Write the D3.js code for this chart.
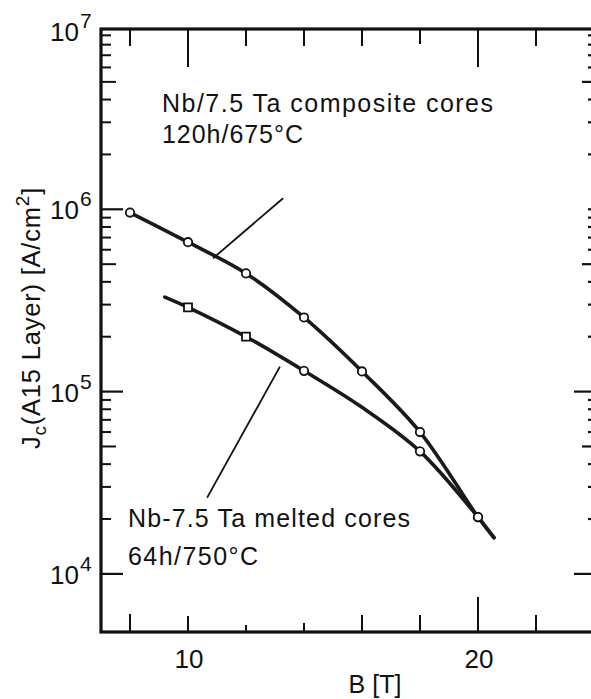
<!DOCTYPE html>
<html><head><meta charset="utf-8">
<script src="https://cdn.jsdelivr.net/npm/d3@7"></script>
<style>body{margin:0;background:#fff}svg{display:block}text{font-family:"Liberation Sans",Arial,sans-serif;fill:#111}</style>
</head><body><svg id="c" width="591" height="699"></svg>
<script>
// ---- data ----
const compB = [8, 10, 12, 14, 16, 18, 20];
const compJ = [9.6e5, 6.6e5, 4.45e5, 2.55e5, 1.29e5, 6.0e4, 2.05e4];
const compCurveB = [8, 10, 12, 14, 16, 18, 20, 20.55];
const compCurveJ = [9.6e5, 6.6e5, 4.45e5, 2.55e5, 1.29e5, 6.0e4, 2.05e4, 1.58e4];
const meltB = [10, 12, 14, 18, 20];
const meltJ = [2.9e5, 2.0e5, 1.3e5, 4.7e4, 2.05e4];
const meltSym = ["square", "square", "circle", "circle", "circle"];
const meltCurveB = [9.2, 10, 12, 14, 16, 18, 20, 20.55];
const meltCurveJ = [3.3e5, 2.9e5, 2.0e5, 1.3e5, 8.2e4, 4.7e4, 2.05e4, 1.58e4];
const xTicks = [8, 10, 12, 14, 16, 18, 20, 22];
const xLabels = [10, 20];
const yDecades = [1e4, 1e5, 1e6, 1e7];
const yLabelExp = [4, 5, 6, 7];
const minorMult = [2, 3, 4, 5, 6, 7, 8, 9];
const leaderComp = [[10.86, 5.38e5], [13.28, 1.15e6]];
const leaderMelt = [[13.17, 1.37e5], [10.66, 2.62e4]];
const noteComp = ["Nb/7.5 Ta composite cores", "120h/675°C"];
const noteMelt = ["Nb-7.5 Ta melted cores", "64h/750°C"];

// ---- layout ----
const L = 101, R = 597, T = 29, B = 632;
const svg = d3.select("#c");
const x = d3.scaleLinear().domain([7, 24]).range([L, L + 17 * 29]);
const y = d3.scaleLog().domain([4.8e3, 9.75e6]).range([B, T]);

// frame
svg.append("rect").attr("x", L).attr("y", T).attr("width", R - L).attr("height", B - T)
  .attr("fill", "none").attr("stroke", "#111").attr("stroke-width", 3.2);

// x ticks top & bottom
const topLen = {8:17, 10:38, 12:17, 14:17, 16:17, 18:15, 20:38, 22:17};
const botLen = {8:18, 10:16, 12:7, 14:9, 16:17, 18:17, 20:35, 22:17};
svg.append("g").selectAll("line").data(xTicks).join("line")
  .attr("x1", d => x(d)).attr("x2", d => x(d)).attr("y1", T).attr("y2", d => T + topLen[d])
  .attr("stroke", "#111").attr("stroke-width", 2);
svg.append("g").selectAll("line").data(xTicks).join("line")
  .attr("x1", d => x(d)).attr("x2", d => x(d)).attr("y1", B).attr("y2", d => B - botLen[d])
  .attr("stroke", "#111").attr("stroke-width", 2);

// y ticks left and right
const minor = [];
[1e4, 1e5, 1e6].forEach(dec => minorMult.forEach(k => minor.push({v: dec * k, k})));
svg.append("g").selectAll("line").data(minor).join("line")
  .attr("x1", L).attr("x2", d => L + (d.k === 5 ? 15 : 10))
  .attr("y1", d => y(d.v)).attr("y2", d => y(d.v)).attr("stroke", "#111").attr("stroke-width", 2);
svg.append("g").selectAll("line").data(yDecades.slice(0, 3)).join("line")
  .attr("x1", L).attr("x2", L + 22).attr("y1", d => y(d)).attr("y2", d => y(d))
  .attr("stroke", "#111").attr("stroke-width", 2.2);
const rx = 592;
svg.append("g").selectAll("line").data(minor).join("line")
  .attr("x1", rx).attr("x2", d => rx - (d.k === 5 ? 10 : 4))
  .attr("y1", d => y(d.v)).attr("y2", d => y(d.v)).attr("stroke", "#111").attr("stroke-width", 2.2);
svg.append("g").selectAll("line").data(yDecades.slice(0, 3)).join("line")
  .attr("x1", rx).attr("x2", d => rx - (d === 1e6 ? 4 : 18)).attr("y1", d => y(d)).attr("y2", d => y(d))
  .attr("stroke", "#111").attr("stroke-width", 2.2);

// y labels
const yl = svg.append("g").selectAll("text").data(yDecades).join("text")
  .attr("x", 50).attr("y", d => y(d) + (d === 1e7 ? 14 : 10)).attr("font-size", 26);
yl.append("tspan").text("10");
yl.append("tspan").attr("dy", -13).attr("dx", 1).attr("font-size", 21).text((d, i) => yLabelExp[i]);

// x labels
svg.append("g").selectAll("text").data(xLabels).join("text")
  .attr("x", d => x(d) + 1).attr("y", 668).attr("text-anchor", "middle").attr("font-size", 26).text(d => d);
svg.append("text").attr("x", 375).attr("y", 693).attr("text-anchor", "middle").attr("font-size", 25).text("B [T]");

// y title
const yt = svg.append("text").attr("transform", "translate(40,318) rotate(-90)")
  .attr("text-anchor", "middle").attr("font-size", 25.5).attr("letter-spacing", 0.8);
yt.append("tspan").text("J");
yt.append("tspan").attr("dy", 6).attr("font-size", 19).text("c");
yt.append("tspan").attr("dy", -6).text("(A15 Layer) [A/cm");
yt.append("tspan").attr("dy", -11).attr("font-size", 19).text("2");
yt.append("tspan").attr("dy", 11).text("]");

// curves
const line = d3.line().x(d => x(d[0])).y(d => y(d[1])).curve(d3.curveCatmullRom.alpha(0.5));
svg.append("path").attr("d", line(compCurveB.map((b, i) => [b, compCurveJ[i]])))
  .attr("fill", "none").attr("stroke", "#1a1a1a").attr("stroke-width", 3.6).attr("stroke-linecap", "round");
svg.append("path").attr("d", line(meltCurveB.map((b, i) => [b, meltCurveJ[i]])))
  .attr("fill", "none").attr("stroke", "#1a1a1a").attr("stroke-width", 3.6).attr("stroke-linecap", "round");

// leaders
const ll = d3.line().x(d => x(d[0])).y(d => y(d[1]));
[leaderComp, leaderMelt].forEach(p => svg.append("path").attr("d", ll(p))
  .attr("fill", "none").attr("stroke", "#111").attr("stroke-width", 1.8));

// markers
svg.append("g").selectAll("circle").data(compB).join("circle")
  .attr("cx", d => x(d)).attr("cy", (d, i) => y(compJ[i])).attr("r", 4.2)
  .attr("fill", "#fff").attr("stroke", "#111").attr("stroke-width", 1.8);
svg.append("g").selectAll("path").data(meltB).join("path")
  .attr("transform", (d, i) => `translate(${x(d)},${y(meltJ[i])})`)
  .attr("d", (d, i) => d3.symbol().type(meltSym[i] === "square" ? d3.symbolSquare : d3.symbolCircle).size(meltSym[i] === "square" ? 64 : 56)())
  .attr("fill", "#fff").attr("stroke", "#111").attr("stroke-width", 1.8);

// notes
svg.append("g").selectAll("text").data(noteComp).join("text")
  .attr("x", 162).attr("y", (d, i) => 112 + i * 31).attr("font-size", 25).text(d => d)
  .attr("textLength", (d, i) => i === 0 ? 331 : 141).attr("lengthAdjust", "spacing");
svg.append("g").selectAll("text").data(noteMelt).join("text")
  .attr("x", 128).attr("y", (d, i) => 527 + i * 38).attr("font-size", 25).text(d => d)
  .attr("textLength", (d, i) => i === 0 ? 282 : 130).attr("lengthAdjust", "spacing");
</script></body></html>
